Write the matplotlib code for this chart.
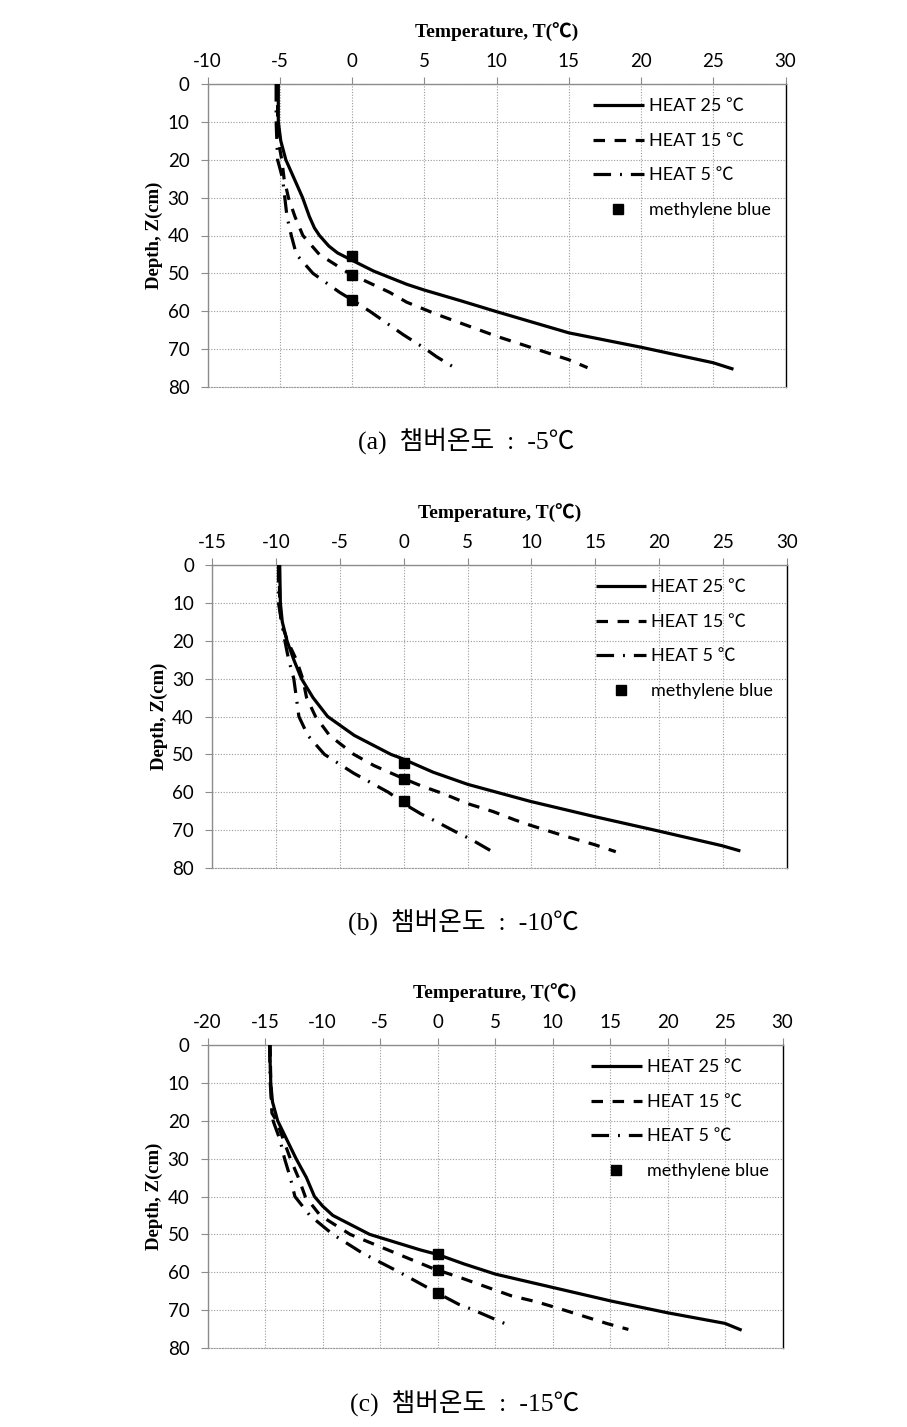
import matplotlib
matplotlib.use("Agg")
import matplotlib.pyplot as plt

plt.rcParams["axes.unicode_minus"] = False

# ---------------- data ----------------
# Panel (a): chamber -5 C
a_h25_depth = [0, 10, 15, 20, 25, 30, 35, 38, 40, 42.8, 44.6, 46, 49.4, 52.9, 54.4, 57.2, 60.1, 65.7, 69.5, 73.6, 75.3]
a_h25_temp = [-5.1, -5.1, -4.93, -4.58, -4.0, -3.42, -2.95, -2.6, -2.25, -1.6, -1.0, -0.28, 1.5, 3.8, 5.0, 7.5, 10.0, 15.0, 20.0, 25.0, 26.4]
a_h15_depth = [0, 10, 15, 20, 25, 30, 35, 40, 45, 50, 55, 57.6, 60.8, 66.6, 72.8, 74.9]
a_h15_temp = [-5.15, -5.15, -5.1, -4.86, -4.7, -4.4, -3.95, -3.4, -2.26, -0.2, 2.6, 3.78, 5.85, 10.0, 15.0, 16.3]
a_h5_depth = [0, 10, 20, 25, 30, 35, 40, 45, 50, 55, 57, 60, 66.2, 69.7, 72, 75.5]
a_h5_temp = [-5.25, -5.25, -5.15, -4.8, -4.65, -4.5, -4.2, -3.85, -2.7, -0.86, 0.0, 1.23, 3.55, 5.0, 5.85, 7.35]
a_mb_depth = [45.5, 50.3, 57.0]
a_mb_temp = [0, 0, 0]

# Panel (b): chamber -10 C
b_h25_depth = [0, 10, 15, 20, 25, 30, 35, 40, 45, 50, 51, 54.7, 57.9, 62.4, 66.4, 70.2, 74.1, 75.5]
b_h25_temp = [-9.7, -9.65, -9.5, -9.13, -8.6, -8.0, -7.1, -5.95, -3.86, -1.0, -0.2, 2.3, 5.0, 9.9, 14.9, 19.9, 24.9, 26.35]
b_h15_depth = [0, 10, 15, 20, 25, 30, 35, 40, 45, 50, 53, 56.4, 58.3, 60.5, 63, 65.1, 67.3, 68.7, 71.4, 73.8, 75.7]
b_h15_temp = [-9.75, -9.7, -9.6, -9.1, -8.4, -7.9, -7.6, -6.9, -5.8, -3.9, -2.3, 0.0, 1.36, 3.2, 5.0, 7.0, 8.7, 9.9, 12.45, 14.9, 16.6]
b_h5_depth = [0, 10, 20, 25, 30, 35, 40, 45, 50, 55, 60, 62.8, 63.9, 65.8, 67.3, 70.8, 72.3, 75.7]
b_h5_temp = [-9.8, -9.8, -9.3, -9.0, -8.6, -8.4, -8.2, -7.5, -6.2, -3.9, -1.2, 0.0, 0.45, 1.4, 2.3, 4.27, 5.2, 6.95]
b_mb_depth = [52.3, 56.4, 62.4]
b_mb_temp = [0, 0, 0]

# Panel (c): chamber -15 C
c_h25_depth = [0, 10, 15, 20, 25, 30, 35, 40, 42.5, 45, 50, 54.1, 55.3, 57.8, 60.5, 64, 67.6, 70.7, 73.5, 75.3]
c_h25_temp = [-14.6, -14.5, -14.35, -13.9, -13.1, -12.3, -11.4, -10.7, -10.0, -9.1, -5.9, -1.5, 0.0, 2.3, 5.04, 10.0, 15.1, 20.0, 25.0, 26.45]
c_h15_depth = [0, 10, 18, 20, 25, 30, 35, 40, 45, 50, 55, 59.5, 60, 61.6, 63.9, 66.2, 67.8, 69.6, 71.6, 73.6, 75.1]
c_h15_temp = [-14.55, -14.5, -14.4, -14.0, -13.4, -12.8, -12.1, -11.5, -10.2, -7.6, -3.6, 0.0, 0.58, 2.16, 4.27, 6.4, 8.6, 10.6, 12.7, 14.8, 16.6]
c_h5_depth = [0, 10, 20, 25, 30, 35, 40, 45, 50, 55, 60, 65.5, 68.5, 69.8, 74]
c_h5_temp = [-14.6, -14.55, -14.3, -13.7, -13.3, -12.8, -12.4, -11.1, -9.1, -6.5, -3.3, 0.0, 1.87, 3.0, 6.2]
c_mb_depth = [55.3, 59.5, 65.5]
c_mb_temp = [0, 0, 0]

series_labels = ["HEAT 25 ℃", "HEAT 15 ℃", "HEAT 5 ℃", "methylene blue"]
x_label = "Temperature, T(℃)"
y_label = "Depth, Z(cm)"
captions = ["(a)  챔버온도  :  -5℃", "(b)  챔버온도  :  -10℃", "(c)  챔버온도  :  -15℃"]
x_ranges = [(-10, 30), (-15, 30), (-20, 30)]
y_ticks = [0, 10, 20, 30, 40, 50, 60, 70, 80]

panels = [
    (a_h25_depth, a_h25_temp, a_h15_depth, a_h15_temp, a_h5_depth, a_h5_temp, a_mb_depth, a_mb_temp),
    (b_h25_depth, b_h25_temp, b_h15_depth, b_h15_temp, b_h5_depth, b_h5_temp, b_mb_depth, b_mb_temp),
    (c_h25_depth, c_h25_temp, c_h15_depth, c_h15_temp, c_h5_depth, c_h5_temp, c_mb_depth, c_mb_temp),
]

# ---------------- layout ----------------
W, H = 907, 1427
fig = plt.figure(figsize=(W / 100, H / 100), dpi=100)

ax_px = [  # left, top, right, bottom in pixels
    (207.5, 84, 785.5, 387),
    (212, 565, 787, 868),
    (207.5, 1045, 782.5, 1348),
]
caption_pos = [(466, 441), (463, 922), (465, 1403)]

tick_font = ["Lato", "Noto Sans CJK KR"]
serif_font = ["Liberation Serif", "Noto Sans CJK KR"]
lw = 2.3
dash15 = (0, (3.6, 3.0))
dash5 = (0, (5.5, 2.8, 0.6, 2.8))
grid_col = "#9a9a9a"
spine_col = "#8c8c8c"

for i, (p, (l, t, r, b)) in enumerate(zip(panels, ax_px)):
    ax = fig.add_axes([l / W, 1 - b / H, (r - l) / W, (b - t) / H])
    d25, t25, d15, t15, d5, t5, dmb, tmb = p
    ax.plot(t25, d25, color="black", lw=lw, solid_capstyle="butt", solid_joinstyle="round",
            label=series_labels[0], zorder=3)
    ax.plot(t15, d15, color="black", lw=lw, linestyle=dash15, label=series_labels[1], zorder=3)
    ax.plot(t5, d5, color="black", lw=lw, linestyle=dash5, label=series_labels[2], zorder=3)
    ax.plot(tmb, dmb, linestyle="none", marker="s", color="black", markersize=7,
            label=series_labels[3], zorder=4)

    x0, x1 = x_ranges[i]
    ax.set_xlim(x0, x1)
    ax.set_ylim(80, 0)
    ax.set_xticks(list(range(x0, x1 + 1, 5)))
    ax.set_yticks(y_ticks)
    ax.xaxis.tick_top()
    ax.xaxis.set_label_position("top")
    ax.tick_params(axis="both", which="major", direction="out", length=5, width=0.8,
                   color=spine_col, labelsize=13.5, labelcolor="black")
    ax.tick_params(axis="x", pad=5)
    ax.tick_params(axis="y", pad=8)
    for lab in ax.get_xticklabels() + ax.get_yticklabels():
        lab.set_family(tick_font)
    ax.grid(True, color=grid_col, linestyle=(0, (1, 1.5)), linewidth=0.8)
    ax.set_axisbelow(True)
    for s in ("left", "top"):
        ax.spines[s].set_color(spine_col)
        ax.spines[s].set_linewidth(1.0)
    ax.spines["right"].set_color("black")
    ax.spines["right"].set_linewidth(1.0)
    ax.spines["bottom"].set_color(grid_col)
    ax.spines["bottom"].set_linestyle((0, (1, 1.5)))
    ax.spines["bottom"].set_linewidth(0.8)

    ax.set_xlabel(x_label, fontsize=14, fontweight="bold", family=serif_font, labelpad=11)
    ax.set_ylabel(y_label, fontsize=13.5, fontweight="bold", family=serif_font, labelpad=3)

    ax.legend(loc="upper left", bbox_to_anchor=(0.667, 0.953), frameon=False,
              borderpad=0, borderaxespad=0, handlelength=2.8, handletextpad=0.3,
              labelspacing=1.03, numpoints=1, prop={"family": tick_font, "size": 13})

    cx, cy = caption_pos[i]
    fig.text(cx / W, 1 - cy / H, captions[i], ha="center", va="center",
             fontsize=18.5, family=serif_font)

fig.savefig("out.png", dpi=100, facecolor="white")
